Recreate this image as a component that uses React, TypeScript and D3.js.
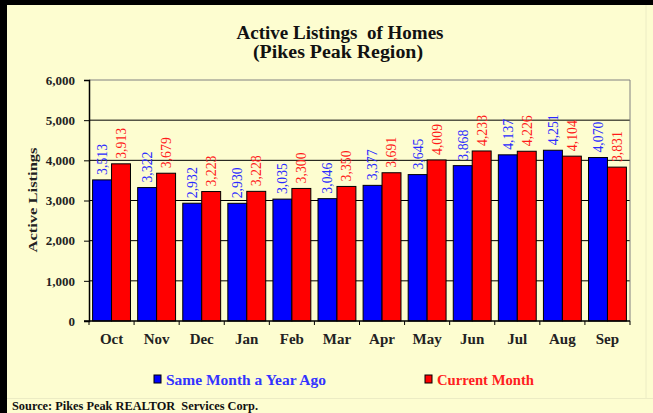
import React, { useEffect, useRef } from 'react';
import * as d3 from 'd3';

const months = ['Oct', 'Nov', 'Dec', 'Jan', 'Feb', 'Mar', 'Apr', 'May', 'Jun', 'Jul', 'Aug', 'Sep'];
const yearAgo = [3513, 3322, 2932, 2930, 3035, 3046, 3377, 3645, 3868, 4137, 4251, 4070];
const current = [3913, 3679, 3223, 3228, 3300, 3350, 3691, 4009, 4233, 4226, 4104, 3831];
const yTicks = [0, 1000, 2000, 3000, 4000, 5000, 6000];
const seriesNames = ['Same Month a Year Ago', 'Current Month'];

const W = 653;
const H = 413;
const FONT = '"Liberation Serif", "Times New Roman", serif';

const App = () => {
  const svgRef = useRef<SVGSVGElement | null>(null);

  useEffect(() => {
    if (!svgRef.current) return;
    const svg = d3.select(svgRef.current);
    svg.selectAll('*').remove();

    // background + frame
    svg.append('rect').attr('width', W).attr('height', H).attr('fill', '#fdfdd0');
    svg.append('line').attr('x1', 0).attr('x2', W).attr('y1', 398.5).attr('y2', 398.5)
      .attr('stroke', '#ececc4').attr('stroke-width', 1);
    svg.append('line').attr('x1', 646).attr('x2', 646).attr('y1', 0).attr('y2', 398)
      .attr('stroke', '#ececc4').attr('stroke-width', 1);
    svg.append('rect').attr('x', 0).attr('y', 0).attr('width', 7).attr('height', H).attr('fill', '#000');
    svg.append('rect').attr('x', 0).attr('y', 0).attr('width', W).attr('height', 5).attr('fill', '#000');

    const left = 89, right = 630, top = 80, bottom = 321;

    const x = d3.scaleBand<string>().domain(months).range([left, right]).paddingInner(0).paddingOuter(0);
    const inner = d3.scaleBand<string>().domain(['a', 'b']).range([0, x.bandwidth()]).paddingOuter(0.19).paddingInner(0);
    const y = d3.scaleLinear().domain([0, 6000]).range([bottom, top]);

    // title
    const title = svg.append('text').attr('text-anchor', 'middle')
      .attr('font-family', FONT).attr('font-weight', 'bold').attr('font-size', 18).attr('fill', '#111');
    title.append('tspan').attr('x', 340).attr('y', 39).attr('xml:space', 'preserve')
      .attr('textLength', 207).attr('lengthAdjust', 'spacingAndGlyphs').text('Active Listings  of Homes');
    title.append('tspan').attr('x', 338).attr('y', 58)
      .attr('textLength', 170).attr('lengthAdjust', 'spacingAndGlyphs').text('(Pikes Peak Region)');

    // gridlines
    svg.append('g').selectAll('line').data(yTicks.filter(t => t > 0 && t < 6000)).join('line')
      .attr('x1', left).attr('x2', right).attr('y1', d => y(d)).attr('y2', d => y(d))
      .attr('stroke', '#000').attr('stroke-width', 1);

    // plot border top/right (gray)
    svg.append('path').attr('d', `M${left},${y(6000)}H${right}V${bottom}`)
      .attr('fill', 'none').attr('stroke', '#808080').attr('stroke-width', 1);

    // bars
    const series = [
      { key: 'a', values: yearAgo, fill: '#0000ff', label: '#2a2aff' },
      { key: 'b', values: current, fill: '#ff0000', label: '#ff1a1a' },
    ];
    series.forEach(s => {
      const g = svg.append('g');
      g.selectAll('rect').data(months).join('rect')
        .attr('x', (m) => (x(m) as number) + (inner(s.key) as number))
        .attr('y', (m, i) => y(s.values[i]))
        .attr('width', inner.bandwidth())
        .attr('height', (m, i) => bottom - y(s.values[i]))
        .attr('fill', s.fill).attr('stroke', '#000').attr('stroke-width', 1);
      g.selectAll('text').data(months).join('text')
        .attr('transform', (m, i) => {
          const cx = (x(m) as number) + (inner(s.key) as number) + inner.bandwidth() / 2;
          return `translate(${cx},${y(s.values[i]) - 5}) rotate(-90)`;
        })
        .attr('dy', '0.35em')
        .attr('textLength', 31).attr('lengthAdjust', 'spacingAndGlyphs')
        .attr('font-family', FONT).attr('font-size', 14).attr('fill', s.label)
        .text((m, i) => d3.format(',')(s.values[i]));
    });

    // y axis
    const yAxis = svg.append('g').attr('transform', `translate(${left},0)`)
      .call(d3.axisLeft(y).tickValues(yTicks).tickFormat(d3.format(',') as any).tickSize(5).tickPadding(9));
    yAxis.select('.domain').attr('stroke', '#000').attr('stroke-width', 1.5);
    yAxis.selectAll('line').attr('stroke', '#000');
    yAxis.selectAll('text').attr('font-family', FONT).attr('font-weight', 'bold')
      .attr('font-size', 13).attr('fill', '#222');

    // x axis
    const xAxis = svg.append('g').attr('transform', `translate(0,${bottom})`);
    xAxis.append('line').attr('x1', left - 5).attr('x2', right).attr('stroke', '#000').attr('stroke-width', 1.5);
    xAxis.selectAll('line.tick').data(d3.range(months.length + 1)).join('line')
      .attr('class', 'tick')
      .attr('x1', i => left + i * x.bandwidth()).attr('x2', i => left + i * x.bandwidth())
      .attr('y1', 0).attr('y2', 4).attr('stroke', '#000');
    xAxis.selectAll('text').data(months).join('text')
      .attr('x', m => (x(m) as number) + x.bandwidth() / 2).attr('y', 23)
      .attr('text-anchor', 'middle')
      .attr('font-family', FONT).attr('font-weight', 'bold').attr('font-size', 15).attr('fill', '#222')
      .text(m => m);

    // y axis title
    svg.append('text').attr('transform', `translate(37,200) rotate(-90)`)
      .attr('text-anchor', 'middle')
      .attr('textLength', 105).attr('lengthAdjust', 'spacingAndGlyphs')
      .attr('font-family', FONT).attr('font-weight', 'bold').attr('font-size', 13).attr('fill', '#222')
      .text('Active Listings');

    // legend
    const legend = [
      { x: 154, fill: '#0000ff', color: '#3333ff', name: seriesNames[0], len: 160 },
      { x: 425, fill: '#ff0000', color: '#ff2020', name: seriesNames[1], len: 97 },
    ];
    legend.forEach(l => {
      svg.append('rect').attr('x', l.x).attr('y', 375).attr('width', 7).attr('height', 8)
        .attr('fill', l.fill).attr('stroke', '#000').attr('stroke-width', 1);
      svg.append('text').attr('x', l.x + 12).attr('y', 385)
        .attr('textLength', l.len).attr('lengthAdjust', 'spacingAndGlyphs')
        .attr('font-family', FONT).attr('font-weight', 'bold').attr('font-size', 15).attr('fill', l.color)
        .text(l.name);
    });

    // source
    svg.append('text').attr('x', 12).attr('y', 410).attr('xml:space', 'preserve')
      .attr('textLength', 246).attr('lengthAdjust', 'spacingAndGlyphs')
      .attr('font-family', FONT).attr('font-weight', 'bold').attr('font-size', 12).attr('fill', '#111')
      .text('Source: Pikes Peak REALTOR  Services Corp.');
  }, []);

  return (
    <svg ref={svgRef} width={W} height={H}
      style={{ position: 'absolute', left: 0, top: 0, display: 'block' }} />
  );
};

export default App;
